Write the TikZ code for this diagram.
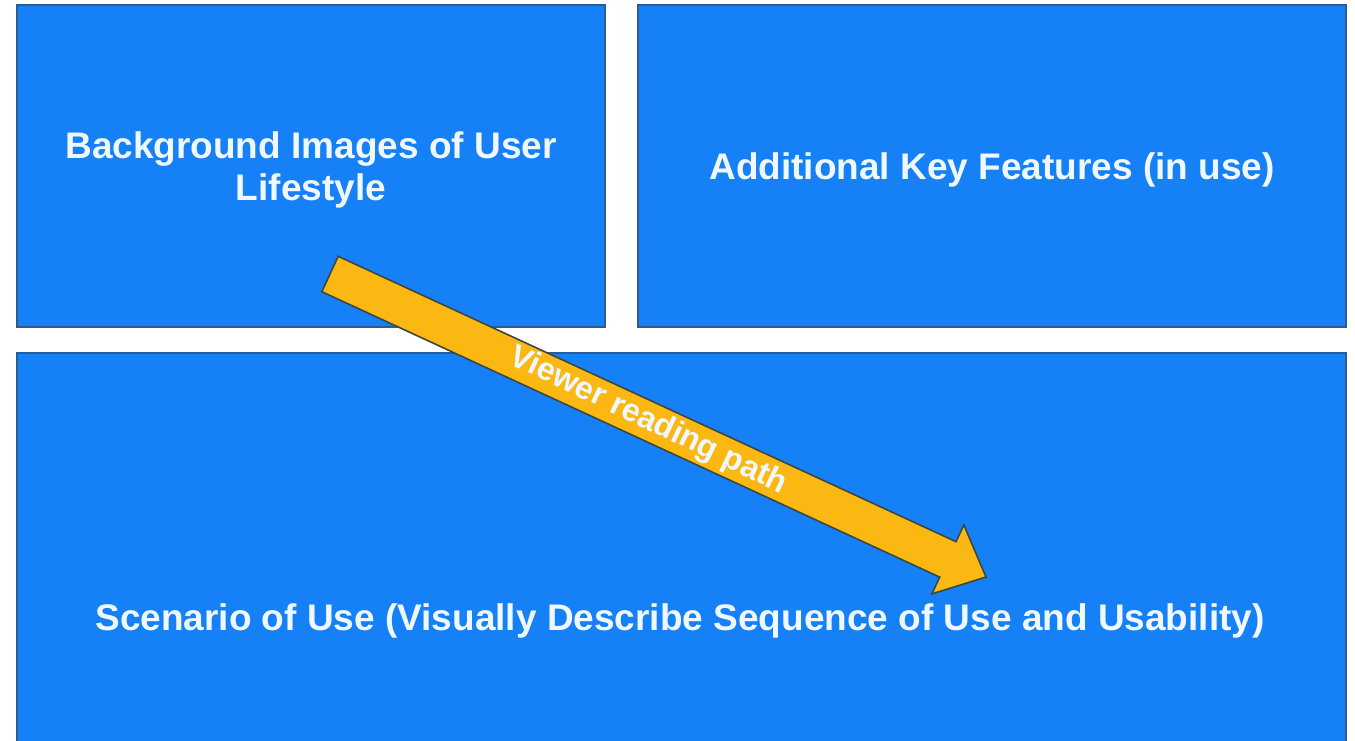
\documentclass[tikz,border=0pt]{standalone}
\usepackage{fontspec}
\setmainfont{Liberation Sans}
\usetikzlibrary{calc}
\definecolor{panelblue}{RGB}{22,128,246}
\definecolor{paneledge}{RGB}{44,92,150}
\definecolor{pathgold}{RGB}{252,184,18}
\definecolor{pathedge}{RGB}{60,72,62}
\definecolor{labelwhite}{RGB}{240,248,255}
\begin{document}
\begin{tikzpicture}[x=1pt,y=-1pt,
  panel/.style={draw=paneledge,line width=1.6pt,fill=panelblue,inner sep=0pt},
  paneltext/.style={text=labelwhite,font=\bfseries\fontsize{37}{42}\selectfont,align=center,yshift=-4pt},
  pathshape/.style={draw=pathedge,line width=1.6pt,fill=pathgold,line join=miter},
  pathtext/.style={text=labelwhite,font=\bfseries\fontsize{32}{36}\selectfont}]
  \useasboundingbox (0,0) rectangle (1355,740);
  \fill[white] (0,0) rectangle (1355,740);

  % three panels
  \node[panel,minimum width=588,minimum height=322] (bg) at (311,166) {};
  \node[panel,minimum width=708,minimum height=322] (feat) at (992,166) {};
  \begin{scope}
    \clip (0,0) rectangle (1355,740);
    \node[panel,minimum width=1329,minimum height=400] (scen) at (681.5,553) {};
  \end{scope}

  \node[paneltext] (bgtext) at (bg.center) {Background Images of User\\Lifestyle};
  \node[paneltext] (feattext) at (feat.center) {Additional Key Features (in use)};
  \node[paneltext] (scentext) at (680,617) {Scenario of Use (Visually Describe Sequence of Use and Usability)};

  % reading-path arrow
  \coordinate (tail) at (330,274);
  \coordinate (tip) at (986,577);
  \coordinate (hb) at ($(tip)!42pt!(tail)$);
  \draw[pathshape]
    ($(tail)!19.5pt!90:(tip)$) -- ($(hb)!19.5pt!90:(tip)$) -- ($(hb)!38pt!90:(tip)$)
    -- (tip) -- ($(hb)!38pt!-90:(tip)$) -- ($(hb)!19.5pt!-90:(tip)$)
    -- ($(tail)!19.5pt!-90:(tip)$) -- cycle;
  \node[pathtext,rotate=-25.5] (pathlabel) at ($(tail)!0.485!(tip)$) {Viewer reading path};
\end{tikzpicture}
\end{document}
